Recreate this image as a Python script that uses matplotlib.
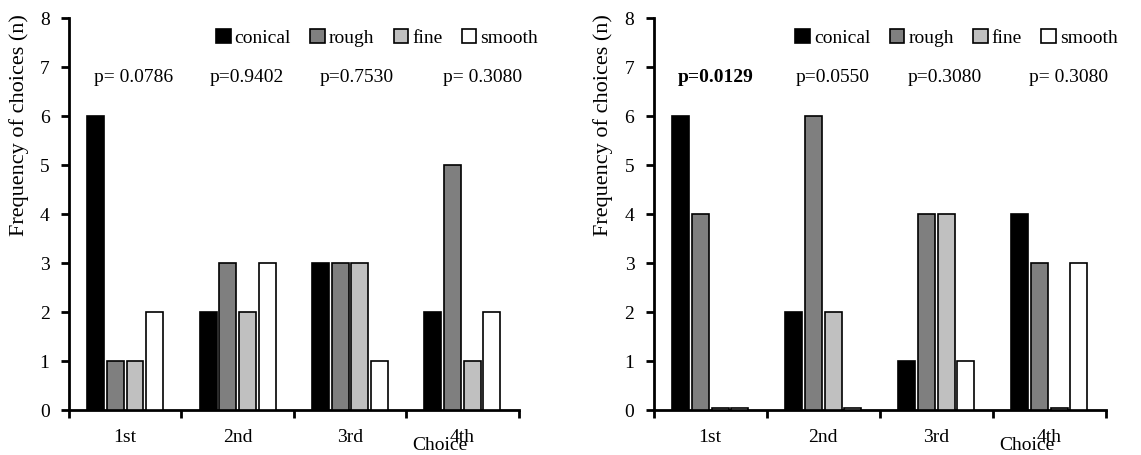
import numpy as np
import matplotlib
matplotlib.use("Agg")
import matplotlib.pyplot as plt
from matplotlib.patches import Patch

plt.rcParams['font.family'] = ['Liberation Serif', 'DejaVu Serif']

choices = ["1st", "2nd", "3rd", "4th"]
series = ["conical", "rough", "fine", "smooth"]
colors = ["#000000", "#7f7f7f", "#c0c0c0", "#ffffff"]

left_conical = [6, 2, 3, 2]
left_rough = [1, 3, 3, 5]
left_fine = [1, 2, 3, 1]
left_smooth = [2, 3, 1, 2]
left_p = ["p= 0.0786", "p=0.9402", "p=0.7530", "p= 0.3080"]
left_p_bold = [False, False, False, False]

right_conical = [6, 2, 1, 4]
right_rough = [4, 6, 4, 3]
right_fine = [0, 2, 4, 0]
right_smooth = [0, 0, 1, 3]
right_p = ["p=0.0129", "p=0.0550", "p=0.3080", "p= 0.3080"]
right_p_bold = [True, False, False, False]

left_p_xpos = [0.57, 1.58, 2.56, 3.68]
right_p_xpos = [0.55, 1.58, 2.58, 3.67]

fig = plt.figure(figsize=(11.41, 4.55), dpi=100)
ax1 = fig.add_axes([0.0605, 0.0989, 0.394, 0.8615])
ax2 = fig.add_axes([0.573, 0.0989, 0.396, 0.8615])

def draw(ax, data, ptexts, pbold, pxpos, legx):
    x = np.arange(len(choices)) + 0.5
    slot = 0.175
    width = 0.15
    for i, vals in enumerate(data):
        vals = np.asarray(vals, dtype=float)
        shown = np.maximum(vals, 0.05)
        ax.bar(x + (i - 1.5) * slot, shown, width=width, color=colors[i],
               edgecolor="black", linewidth=1.2, zorder=3)
    ax.set_xlim(0, 4)
    ax.set_ylim(0, 8)
    ax.set_yticks(range(0, 9))
    ax.set_xticks(x)
    ax.set_xticklabels(choices)
    ax.set_xticks(np.arange(0, 5), minor=True)
    ax.tick_params(axis="x", which="major", length=0, pad=14, labelsize=14)
    ax.tick_params(axis="x", which="minor", length=6, width=2, direction="out")
    ax.tick_params(axis="y", length=6, width=2, direction="out", labelsize=14, pad=8)
    for s in ["top", "right"]:
        ax.spines[s].set_visible(False)
    for s in ["left", "bottom"]:
        ax.spines[s].set_linewidth(2)
    ax.set_ylabel("Frequency of choices (n)", fontsize=16)
    ax.yaxis.set_label_coords(-0.09, 0.726)
    ax.text(0.825, -0.09, "Choice", transform=ax.transAxes, ha="center",
            va="center", fontsize=14)
    for xp, t, b in zip(pxpos, ptexts, pbold):
        ax.text(xp, 6.78, t, ha="center", va="center", fontsize=14,
                fontweight="bold" if b else "normal")
    handles = [Patch(facecolor=c, edgecolor="black", linewidth=1.2) for c in colors]
    ax.legend(handles, series, loc="center", bbox_to_anchor=(legx, 0.949),
              ncol=4, frameon=False, fontsize=14, handlelength=0.75,
              handleheight=0.75, handletextpad=0.2, columnspacing=1.0)

draw(ax1, [left_conical, left_rough, left_fine, left_smooth], left_p,
     left_p_bold, left_p_xpos, 0.685)
draw(ax2, [right_conical, right_rough, right_fine, right_smooth], right_p,
     right_p_bold, right_p_xpos, 0.67)

fig.savefig("out.png", dpi=100)
